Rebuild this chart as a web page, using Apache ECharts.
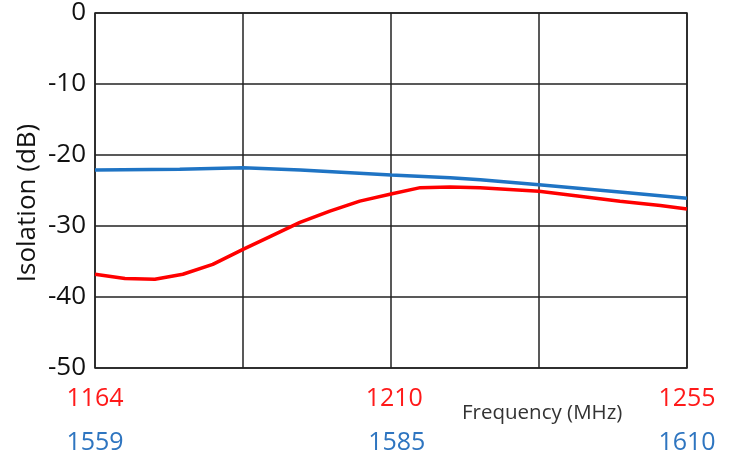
<!DOCTYPE html>
<html>
<head>
<meta charset="utf-8">
<script src="https://cdn.jsdelivr.net/npm/echarts@6/dist/echarts.min.js"></script>
<style>html,body{margin:0;padding:0;background:#fff}#c{width:736px;height:455px}</style>
</head>
<body>
<div id="c"></div>
<script>
// Red band (MHz) frequency and isolation (dB)
const redFreq = [1164, 1168.6, 1173.2, 1177.5, 1182.1, 1186.75, 1190.9, 1195.5, 1200.1, 1204.7, 1209.5, 1214, 1218.6, 1223.2, 1232.25, 1238.5, 1244.7, 1250.9, 1255];
const redIso  = [-36.8, -37.4, -37.5, -36.8, -35.4, -33.3, -31.5, -29.5, -27.9, -26.5, -25.5, -24.6, -24.5, -24.6, -25.1, -25.8, -26.5, -27.1, -27.6];
// Blue band (MHz) frequency and isolation (dB)
const blueFreq = [1559, 1566.3, 1571.75, 1576.7, 1584.5, 1589.6, 1592.2, 1597.25, 1604.2, 1610];
const blueIso  = [-22.1, -22.0, -21.8, -22.1, -22.8, -23.2, -23.5, -24.2, -25.2, -26.1];
const redTicks = [1164, 1210, 1255];
const blueTicks = [1559, 1585, 1610];

const FONT = 'Open Sans';
const fmt = v => String(Math.round(v));
const chart = echarts.init(document.getElementById('c'));
chart.setOption({
  animation: false,
  grid: {left: 95, top: 12, right: 49, bottom: 86, show: true, borderColor: '#222', borderWidth: 1.5, containLabel: false},
  xAxis: [
    {type: 'value', min: 1164, max: 1255, position: 'bottom',
     axisLine: {show: false}, axisTick: {show: false}, splitLine: {show: false},
     axisLabel: {customValues: redTicks, formatter: fmt, color: '#ff1a1a', fontSize: 25, fontFamily: FONT, margin: 18}},
    {type: 'value', min: 1559, max: 1610, position: 'bottom', offset: 44,
     axisLine: {show: false}, axisTick: {show: false}, splitLine: {show: false},
     axisLabel: {customValues: blueTicks, formatter: fmt, color: '#2e75c0', fontSize: 25, fontFamily: FONT, margin: 18}},
    {type: 'value', min: 0, max: 4, interval: 1, position: 'top',
     axisLine: {show: false}, axisTick: {show: false}, axisLabel: {show: false},
     splitLine: {show: true, lineStyle: {color: '#222', width: 1.5}}}
  ],
  yAxis: {
    type: 'value', min: -50, max: 0, interval: 10,
    axisLine: {show: false}, axisTick: {show: false},
    axisLabel: {color: '#111', fontSize: 26, fontFamily: FONT, margin: 9},
    splitLine: {show: true, lineStyle: {color: '#222', width: 1.5}}
  },
  series: [
    {type: 'line', xAxisIndex: 0, data: redFreq.map((f, i) => [f, redIso[i]]),
     showSymbol: false, lineStyle: {color: '#ff0000', width: 3.5}, z: 3},
    {type: 'line', xAxisIndex: 1, data: blueFreq.map((f, i) => [f, blueIso[i]]),
     showSymbol: false, lineStyle: {color: '#1f74c4', width: 3.5}, z: 4}
  ],
  graphic: [
    {type: 'text', x: 28, y: 203, rotation: Math.PI / 2,
     style: {text: 'Isolation (dB)', fill: '#111', fontSize: 26, fontFamily: FONT, align: 'center', verticalAlign: 'middle'}},
    {type: 'text', x: 462, y: 413,
     style: {text: 'Frequency (MHz)', fill: '#333', fontSize: 20.5, fontFamily: FONT, align: 'left', verticalAlign: 'middle'}}
  ]
});
</script>
</body>
</html>
